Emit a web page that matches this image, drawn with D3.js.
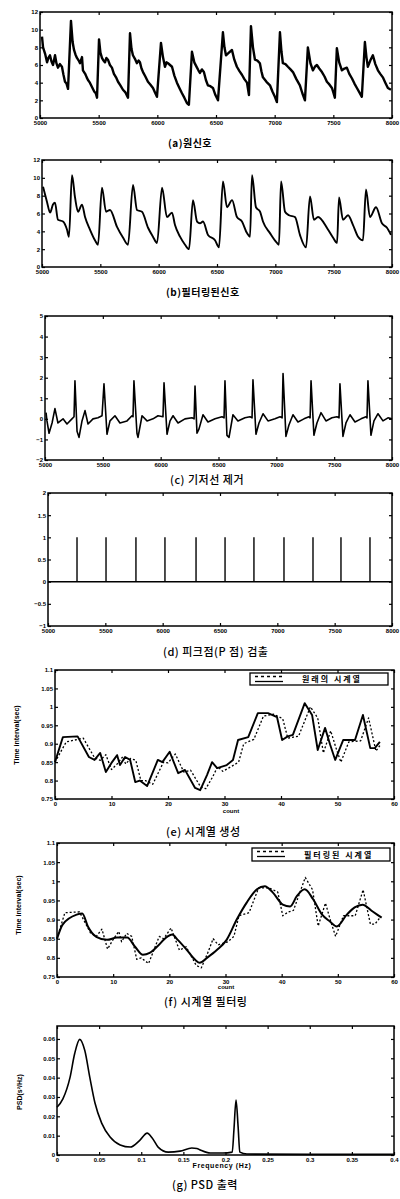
<!DOCTYPE html>
<html>
<head>
<meta charset="utf-8">
<script src="https://cdn.jsdelivr.net/npm/d3@7"></script>
<style>
  body { margin: 0; background: #fff; }
  .tick text { font-family: "Liberation Sans", Arial, sans-serif; font-size: 6px; font-weight: bold; fill: #000; }
  .tick line { stroke: #000; stroke-width: 1.2; }
  .title { font-family: "Noto Sans CJK KR", sans-serif; font-size: 11px; fill: #000; }
  .lab { font-family: "Liberation Sans", Arial, sans-serif; font-size: 7px; font-weight: bold; fill: #000; }
</style>
</head>
<body>
<svg id="chart" width="400" height="1199"></svg>
<script>
// sample axis used by panels (a)-(d)
var SAMPLE_TICKS = [5000, 5500, 6000, 6500, 7000, 7500, 8000];
var A_Y_TICKS = [0, 2, 4, 6, 8, 10, 12];
var C_Y_TICKS = [-2, -1, 0, 1, 2, 3, 4, 5];
var D_Y_TICKS = [-1, -0.5, 0, 0.5, 1, 1.5, 2];
var COUNT_TICKS = [0, 10, 20, 30, 40, 50, 60];
var INTERVAL_TICKS = [0.75, 0.8, 0.85, 0.9, 0.95, 1, 1.05, 1.1];
var FREQ_TICKS = [0, 0.05, 0.1, 0.15, 0.2, 0.25, 0.3, 0.35, 0.4];
var PSD_TICKS = [0, 0.01, 0.02, 0.03, 0.04, 0.05, 0.06];

var TITLES = ['(a)원신호', '(b)필터링된신호', '(c) 기저선 제거', '(d) 피크점(P 점) 검출',
  '(e) 시계열 생성', '(f) 시계열 필터링', '(g) PSD 출력'];
var LEGEND_E = '원래의 시계열';
var LEGEND_F = '필터링된 시계열';

// (a) raw signal [sample, value]
var rawSignal = [
  [5017,9.2],[5026,8.0],[5045,7.2],[5060,6.3],[5072,6.8],[5085,7.1],[5098,6.4],[5111,6.0],[5128,7.1],[5140,6.2],
  [5153,5.7],[5170,6.1],[5187,5.8],[5200,4.9],[5213,4.1],[5226,3.9],[5239,3.3],[5264,11.0],[5278,8.6],[5290,7.7],
  [5302,7.2],[5315,6.8],[5330,6.5],[5341,6.2],[5358,6.9],[5366,5.4],[5385,5.0],[5398,4.6],[5409,4.3],[5425,4.0],
  [5443,3.5],[5462,3.0],[5475,2.8],[5486,2.3],[5503,8.9],[5515,7.4],[5528,6.8],[5541,6.5],[5554,6.3],[5566,6.8],
  [5579,6.6],[5596,6.0],[5613,5.7],[5630,5.0],[5648,4.6],[5665,4.1],[5685,3.7],[5707,3.2],[5728,2.9],[5750,2.3],
  [5767,9.6],[5780,7.8],[5792,7.1],[5809,6.7],[5826,6.2],[5840,6.5],[5852,6.3],[5865,5.6],[5878,5.2],[5898,4.7],
  [5920,4.1],[5940,3.8],[5963,3.4],[5980,2.9],[5997,2.4],[6031,8.5],[6048,6.9],[6065,5.8],[6078,6.3],[6091,6.2],
  [6108,6.0],[6125,5.8],[6145,4.8],[6167,4.0],[6188,3.4],[6210,2.8],[6230,2.3],[6252,1.7],[6269,1.5],[6295,7.5],
  [6315,6.3],[6338,5.7],[6350,5.4],[6363,5.1],[6380,5.5],[6397,5.2],[6414,4.3],[6431,3.7],[6452,3.6],[6474,3.4],
  [6495,2.6],[6517,2.0],[6559,9.7],[6572,8.0],[6585,7.1],[6610,7.4],[6636,7.7],[6656,6.6],[6678,5.8],[6700,5.3],
  [6721,4.9],[6742,4.4],[6764,4.0],[6781,2.6],[6798,10.4],[6815,8.0],[6832,6.6],[6853,6.5],[6874,6.2],[6887,5.3],
  [6900,4.6],[6930,4.1],[6960,3.7],[6981,3.0],[7002,2.4],[7019,1.8],[7045,9.7],[7058,7.5],[7070,6.2],[7092,6.1],
  [7113,5.8],[7135,5.5],[7156,5.2],[7185,4.4],[7215,3.7],[7236,2.8],[7258,2.0],[7283,8.0],[7305,6.2],[7326,5.4],
  [7343,5.8],[7360,6.0],[7380,5.6],[7403,5.2],[7425,4.7],[7445,4.1],[7466,3.8],[7488,3.4],[7500,2.9],[7513,2.3],
  [7530,7.9],[7550,6.3],[7573,5.4],[7595,5.6],[7615,5.7],[7636,5.0],[7658,4.5],[7680,3.9],[7701,3.4],[7722,2.9],
  [7743,2.4],[7769,8.6],[7782,6.9],[7794,5.8],[7815,6.5],[7837,7.1],[7858,6.1],[7880,5.4],[7900,5.0],[7922,4.6],
  [7943,4.0],[7965,3.4],[7991,3.2]
];

// (b) filtered signal
var filteredSignal = [
  [5009,9.0],[5043,7.3],[5069,6.1],[5094,7.0],[5111,7.2],[5137,5.3],[5180,5.1],[5214,4.2],[5231,3.4],[5257,10.3],
  [5283,7.8],[5309,6.2],[5343,7.0],[5369,5.6],[5411,4.2],[5454,3.0],[5480,2.5],[5514,8.9],[5549,6.2],[5583,6.4],
  [5643,4.5],[5694,3.3],[5737,2.5],[5780,9.2],[5814,6.4],[5857,6.2],[5909,4.4],[5951,3.4],[5986,2.7],[6029,8.9],
  [6071,5.6],[6114,6.1],[6140,4.7],[6183,3.4],[6226,2.5],[6260,2.0],[6294,7.5],[6329,5.1],[6354,4.9],[6380,5.1],
  [6423,3.6],[6483,3.0],[6517,2.2],[6551,9.6],[6586,6.7],[6629,7.5],[6671,5.6],[6714,5.1],[6757,3.8],[6783,3.4],
  [6800,10.3],[6834,6.7],[6869,6.2],[6894,5.1],[6954,3.8],[7014,2.7],[7031,2.5],[7049,9.6],[7083,6.2],[7117,5.8],
  [7169,5.6],[7211,3.6],[7263,2.2],[7297,7.9],[7331,5.3],[7366,5.6],[7451,4.2],[7494,3.3],[7529,2.7],[7546,7.8],
  [7580,5.3],[7623,5.8],[7666,4.7],[7709,3.4],[7751,3.0],[7777,8.7],[7811,5.6],[7863,6.7],[7914,4.9],[7957,4.4],
  [7991,3.6]
];

// (c) baseline removed
var detrendedSignal = [
  [5009,0.3],[5017,-0.1],[5035,-0.7],[5061,-0.2],[5086,0.5],[5112,-0.2],[5156,0.0],[5190,-0.25],[5233,0.0],[5251,0.1],
  [5259,1.85],[5277,-0.6],[5294,-0.9],[5320,-0.1],[5346,0.4],[5372,-0.25],[5415,0.0],[5458,0.05],[5493,0.15],
  [5510,1.7],[5536,-0.75],[5562,-0.1],[5605,0.15],[5648,-0.2],[5709,-0.1],[5752,0.15],[5761,0.1],
  [5769,1.85],[5795,-0.7],[5804,-0.9],[5839,0.15],[5882,-0.1],[5934,0.0],[5977,0.15],[6020,0.1],
  [6029,1.75],[6055,-0.75],[6081,-0.1],[6107,0.15],[6150,-0.2],[6210,0.0],[6271,0.05],[6289,0.0],
  [6297,1.6],[6314,-0.7],[6331,-0.5],[6366,0.2],[6409,-0.15],[6470,0.0],[6530,0.1],[6548,0.05],
  [6556,1.85],[6573,-0.8],[6591,-0.9],[6625,0.2],[6668,-0.1],[6729,0.05],[6772,0.1],[6790,0.05],
  [6798,1.9],[6824,-0.75],[6850,-0.2],[6885,0.25],[6928,-0.1],[6988,0.0],[7032,0.1],[7050,0.05],
  [7058,2.2],[7083,-0.85],[7109,-0.3],[7144,0.2],[7187,-0.15],[7239,0.0],[7282,0.1],[7292,0.05],
  [7300,1.85],[7325,-0.8],[7351,-0.2],[7386,0.3],[7429,-0.1],[7481,0.05],[7524,0.1],[7542,0.05],
  [7550,1.7],[7576,-0.85],[7602,-0.2],[7637,0.2],[7680,-0.15],[7732,0.0],[7775,0.1],[7784,0.05],
  [7792,1.85],[7818,-0.8],[7844,-0.1],[7879,0.25],[7922,-0.1],[7965,0.05],[8000,0.0]
];

// (d) detected peak positions and their marker height
var peakSamples = [5253, 5506, 5767, 6020, 6291, 6544, 6796, 7058, 7311, 7555, 7808];
var peakHeights = [1, 1, 1, 1, 1, 1, 1, 1, 1, 1, 1];

// (e) interval series [count, sec]
var intervalSeries = [
  [0,0.85],[1.4,0.918],[4,0.92],[6,0.864],[7,0.856],[8,0.875],[9,0.823],[10,0.848],[11,0.869],[11.5,0.842],
  [12.4,0.864],[13.3,0.856],[14.2,0.796],[15,0.8],[16.3,0.785],[18.2,0.856],[19,0.85],[20.3,0.878],[21.8,0.82],
  [23,0.829],[24.8,0.78],[25.7,0.774],[26.9,0.815],[27.8,0.85],[28.7,0.834],[30.4,0.842],[31.5,0.856],[32.4,0.91],
  [34.2,0.918],[35.9,0.983],[37.7,0.983],[39.3,0.972],[40.2,0.91],[41.2,0.92],[42.1,0.924],[44.2,1.01],[45.5,0.978],
  [46.5,0.883],[47.8,0.943],[48.7,0.897],[49.6,0.856],[51,0.91],[53.1,0.91],[54.5,0.978],[55.8,0.888],[56.6,0.888],
  [57.5,0.905]
];
var intervalResampled = [
  [0,0.85],[2,0.905],[5,0.915],[7,0.862],[8,0.855],[9,0.87],[10,0.83],[11,0.845],[12,0.865],[12.5,0.845],
  [13.4,0.86],[14.3,0.855],[15.2,0.8],[16,0.8],[17.3,0.79],[19.2,0.85],[20,0.848],[21.3,0.872],[22.8,0.823],
  [24,0.828],[25.8,0.782],[26.7,0.778],[27.9,0.81],[28.8,0.838],[29.7,0.825],[31.4,0.84],[32.5,0.85],[33.4,0.9],
  [35.2,0.912],[36.9,0.975],[38.7,0.98],[40.3,0.968],[41.2,0.915],[42.2,0.918],[43.1,0.92],[45.2,1.0],[46.5,0.97],
  [47.5,0.875],[48.8,0.935],[49.7,0.89],[50.6,0.85],[52,0.905],[54.1,0.908],[55.5,0.97],[56.8,0.88],[57.5,0.895]
];

// (f) filtered interval series
var intervalFiltered = [
  [0,0.85],[1,0.887],[3.5,0.913],[4.5,0.916],[5.5,0.882],[7,0.855],[8.9,0.847],[10.7,0.853],[12.5,0.853],
  [13.9,0.829],[15.3,0.808],[16.5,0.813],[17.8,0.829],[19.6,0.855],[20.5,0.861],[21.5,0.847],[23.1,0.821],
  [24.6,0.795],[25.4,0.787],[26.7,0.8],[28.5,0.821],[30.2,0.847],[32,0.9],[33.8,0.945],[35.6,0.979],[37,0.987],
  [38.4,0.971],[40.2,0.939],[41.5,0.934],[42.7,0.961],[44.1,0.979],[45.6,0.953],[47.2,0.913],[48.6,0.895],
  [49.8,0.882],[51.6,0.913],[53,0.932],[54.4,0.939],[56.2,0.921],[57.8,0.905]
];

// (g) power spectral density [Hz, s^2/Hz]
var psdCurve = [
  [0,0.0247],[0.007,0.029],[0.0154,0.04],[0.021,0.0525],[0.027,0.0598],[0.033,0.054],[0.039,0.04],[0.045,0.027],
  [0.053,0.0165],[0.063,0.0093],[0.075,0.0052],[0.087,0.0041],[0.0985,0.0077],[0.107,0.0113],[0.113,0.0088],
  [0.12,0.0041],[0.132,0.0015],[0.146,0.002],[0.16,0.0036],[0.166,0.0034],[0.17,0.0026],[0.182,0.001],
  [0.197,0.001],[0.208,0.0015],[0.21,0.0129],[0.2125,0.0284],[0.215,0.0144],[0.217,0.0015],[0.2255,0.0005],
  [0.3,0.0003],[0.4,0.0003]
];

var svg = d3.select('#chart');


// Frame, inward ticks on four sides, tick labels left and bottom.
var makePanel = function(p) {
  var x = d3.scaleLinear().domain(p.xDomain).range([p.left, p.right]);
  var y = d3.scaleLinear().domain(p.yDomain).range([p.bottom, p.top]);
  var g = svg.append('g');
  var strip = function(a) { a.select('.domain').remove(); };

  g.append('g').attr('transform', 'translate(0,' + p.bottom + ')')
    .call(d3.axisBottom(x).tickValues(p.xTicks).tickSize(-3).tickSizeOuter(0).tickPadding(3)
      .tickFormat(p.xFormat)).call(strip);
  g.append('g').attr('transform', 'translate(0,' + p.top + ')')
    .call(d3.axisTop(x).tickValues(p.xTicks).tickSize(-3).tickSizeOuter(0).tickFormat('')).call(strip);
  g.append('g').attr('transform', 'translate(' + p.left + ',0)')
    .call(d3.axisLeft(y).tickValues(p.yTicks).tickSize(-3).tickSizeOuter(0).tickPadding(2)
      .tickFormat(p.yFormat)).call(strip);
  g.append('g').attr('transform', 'translate(' + p.right + ',0)')
    .call(d3.axisRight(y).tickValues(p.yTicks).tickSize(-3).tickSizeOuter(0).tickFormat('')).call(strip);

  g.append('rect')
    .attr('x', p.left).attr('y', p.top)
    .attr('width', p.right - p.left).attr('height', p.bottom - p.top)
    .attr('fill', 'none').attr('stroke', '#000').attr('stroke-width', 1.5);

  return {g: g, x: x, y: y};
};


var drawLine = function(panel, data, width, dash, curve) {
  var line = d3.line()
    .x(function(d) { return panel.x(d[0]); })
    .y(function(d) { return panel.y(d[1]); })
    .curve(curve || d3.curveLinear);
  panel.g.append('path')
    .datum(data)
    .attr('d', line)
    .attr('fill', 'none')
    .attr('stroke', '#000')
    .attr('stroke-width', width)
    .attr('stroke-linejoin', 'round')
    .attr('stroke-dasharray', dash || null);
};


var addTitle = function(text, x, y, size, weight) {
  svg.append('text').classed('title', true)
    .attr('x', x).attr('y', y)
    .style('font-size', size + 'px')
    .style('font-weight', weight)
    .style('letter-spacing', '0.5px')
    .text(text);
};


var addLegend = function(panel, x0, y0, w, h, label) {
  var g = panel.g;
  g.append('rect').attr('x', x0).attr('y', y0).attr('width', w).attr('height', h)
    .attr('fill', '#fff').attr('stroke', '#000').attr('stroke-width', 1.3);
  g.append('line').attr('x1', x0 + 5).attr('x2', x0 + 33).attr('y1', y0 + 3.5).attr('y2', y0 + 3.5)
    .attr('stroke', '#000').attr('stroke-width', 1.3).attr('stroke-dasharray', '3,3');
  g.append('line').attr('x1', x0 + 5).attr('x2', x0 + 33).attr('y1', y0 + 8.5).attr('y2', y0 + 8.5)
    .attr('stroke', '#000').attr('stroke-width', 1.3);
  g.append('text').classed('title', true)
    .attr('x', x0 + 52).attr('y', y0 + h - 3)
    .style('font-size', '8px').style('font-weight', 'bold').style('letter-spacing', '2px')
    .text(label);
};


var fmtInt = d3.format('d');
var fmtDec = d3.format('.2~f');

// (a)
var pa = makePanel({left: 40, right: 392, top: 12, bottom: 118,
  xDomain: [5000, 8000], yDomain: [0, 12], xTicks: SAMPLE_TICKS, yTicks: A_Y_TICKS,
  xFormat: fmtInt, yFormat: fmtInt});
drawLine(pa, rawSignal, 2.4);
addTitle(TITLES[0], 168, 147, 10, 'bold');

// (b)
var pb = makePanel({left: 42, right: 392, top: 160, bottom: 267,
  xDomain: [5000, 8000], yDomain: [0, 12], xTicks: SAMPLE_TICKS, yTicks: A_Y_TICKS,
  xFormat: fmtInt, yFormat: fmtInt});
drawLine(pb, filteredSignal, 1.9, null, d3.curveMonotoneX);
addTitle(TITLES[1], 166, 296, 10, 'bold');

// (c)
var pc = makePanel({left: 45, right: 392, top: 316, bottom: 460,
  xDomain: [5000, 8000], yDomain: [-2, 5], xTicks: SAMPLE_TICKS, yTicks: C_Y_TICKS,
  xFormat: fmtInt, yFormat: fmtInt});
drawLine(pc, detrendedSignal, 1.6);
addTitle(TITLES[2], 170, 484, 11, 500);

// (d)
var pd = makePanel({left: 48, right: 392, top: 493, bottom: 626,
  xDomain: [5000, 8000], yDomain: [-1, 2], xTicks: SAMPLE_TICKS, yTicks: D_Y_TICKS,
  xFormat: fmtInt, yFormat: d3.format('~g')});
drawLine(pd, [[5000, 0], [8000, 0]], 1.5);
pd.g.selectAll('.spike').data(peakSamples).enter().append('line')
  .classed('spike', true)
  .attr('x1', function(d) { return pd.x(d); })
  .attr('x2', function(d) { return pd.x(d); })
  .attr('y1', pd.y(0))
  .attr('y2', function(d, i) { return pd.y(peakHeights[i]); })
  .attr('stroke', '#000').attr('stroke-width', 1.4);
addTitle(TITLES[3], 163, 656, 11, 500);

// (e)
var pe = makePanel({left: 55, right: 394, top: 670, bottom: 799,
  xDomain: [0, 60], yDomain: [0.75, 1.1], xTicks: COUNT_TICKS, yTicks: INTERVAL_TICKS,
  xFormat: fmtInt, yFormat: fmtDec});
drawLine(pe, intervalResampled, 1.3, '2,2');
drawLine(pe, intervalSeries, 1.9);
addLegend(pe, 250, 673, 138, 12, LEGEND_E);
pe.g.append('text').classed('lab', true).attr('x', 231).attr('y', 813)
  .attr('text-anchor', 'middle').style('font-size', '6px').text('count');
pe.g.append('text').classed('lab', true)
  .attr('transform', 'translate(19,735) rotate(-90)')
  .attr('text-anchor', 'middle').text('Time interval(sec)');
addTitle(TITLES[4], 166, 836, 11, 500);

// (f)
var pf = makePanel({left: 57, right: 394, top: 843, bottom: 977,
  xDomain: [0, 60], yDomain: [0.75, 1.1], xTicks: COUNT_TICKS, yTicks: INTERVAL_TICKS,
  xFormat: fmtInt, yFormat: fmtDec});
drawLine(pf, intervalSeries, 1.3, '2,2');
drawLine(pf, intervalFiltered, 2.0, null, d3.curveMonotoneX);
addLegend(pf, 252, 848, 138, 13, LEGEND_F);
pf.g.append('text').classed('lab', true).attr('x', 226).attr('y', 989)
  .attr('text-anchor', 'middle').style('font-size', '6px').text('count');
pf.g.append('text').classed('lab', true)
  .attr('transform', 'translate(21,905) rotate(-90)')
  .attr('text-anchor', 'middle').text('Time interval(sec)');
addTitle(TITLES[5], 164, 1006, 11, 500);

// (g)
var pg = makePanel({left: 57, right: 394, top: 1026, bottom: 1155,
  xDomain: [0, 0.4], yDomain: [0, 0.0667], xTicks: FREQ_TICKS, yTicks: PSD_TICKS,
  xFormat: fmtDec, yFormat: fmtDec});
drawLine(pg, psdCurve, 1.6, null, d3.curveMonotoneX);
pg.g.append('text').classed('lab', true).attr('x', 222).attr('y', 1168)
  .attr('text-anchor', 'middle').style('letter-spacing', '0.6px').text('Frequency (Hz)');
pg.g.append('text').classed('lab', true)
  .attr('transform', 'translate(22,1092) rotate(-90)')
  .attr('text-anchor', 'middle').text('PSD(s²/Hz)');
addTitle(TITLES[6], 172, 1189, 11, 500);
</script>
</body>
</html>
